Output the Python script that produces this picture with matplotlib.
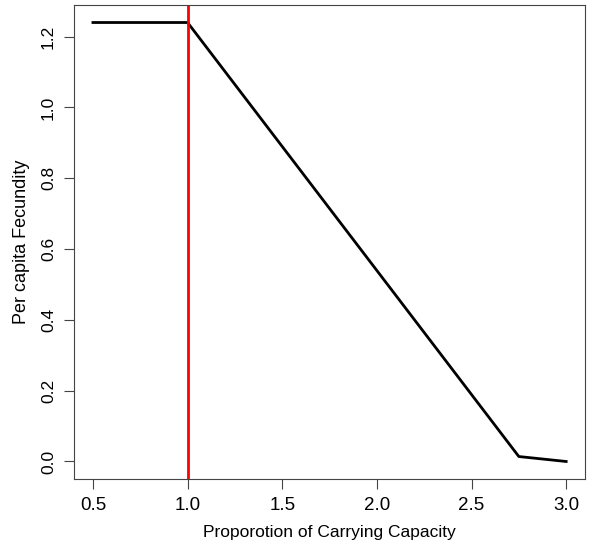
import matplotlib
matplotlib.use("Agg")
import matplotlib.pyplot as plt

# density-dependent fecundity curve
prop_k = [0.5, 1.0, 2.75, 3.0]
fecundity = [1.24, 1.24, 0.014, 0.0]
k_line = 1.0

xticks = [0.5, 1.0, 1.5, 2.0, 2.5, 3.0]
yticks = [0.0, 0.2, 0.4, 0.6, 0.8, 1.0, 1.2]

plt.rcParams["font.family"] = ["Liberation Sans", "DejaVu Sans"]
fig = plt.figure(figsize=(5.94, 5.5), dpi=100)
ax = fig.add_axes([0.1246, 0.129, 0.8604, 0.862])

ax.plot(prop_k, fecundity, color="black", lw=2.0, solid_joinstyle="round")
ax.axvline(k_line, color="#FF0000", lw=2.0)

pad_x = 0.04 * (max(prop_k) - min(prop_k))
pad_y = 0.04 * (max(fecundity) - min(fecundity))
ax.set_xlim(min(prop_k) - pad_x, max(prop_k) + pad_x)
ax.set_ylim(min(fecundity) - pad_y, max(fecundity) + pad_y)

ax.set_xticks(xticks)
ax.set_xticklabels([f"{v:.1f}" for v in xticks], fontsize=13.5)
ax.set_yticks(yticks)
ax.set_yticklabels([f"{v:.1f}" for v in yticks], rotation=90, va="center",
                   fontsize=12.5)
ax.tick_params(direction="out", length=7, width=0.8, pad=6, color="#444444")
for s in ax.spines.values():
    s.set_linewidth(0.8)
    s.set_color("#444444")

ax.set_xlabel("Proporotion of Carrying Capacity", fontsize=12.5, labelpad=8)
ax.set_ylabel("Per capita Fecundity", fontsize=13, labelpad=8)

fig.savefig("out.png", dpi=100)
